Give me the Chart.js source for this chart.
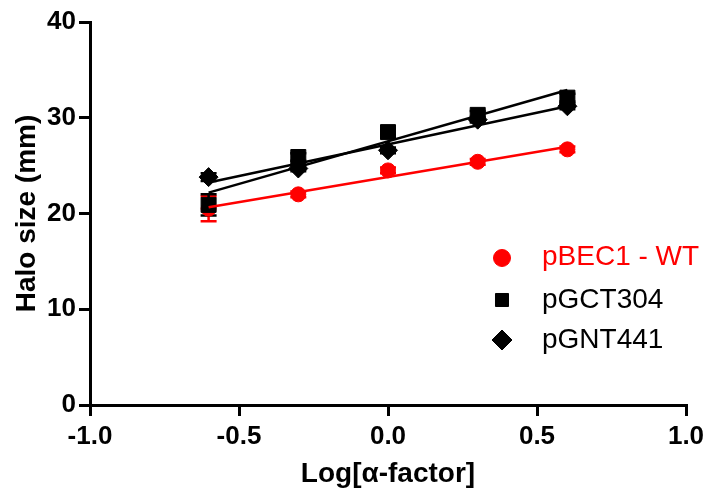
<!DOCTYPE html>
<html>
<head>
<meta charset="utf-8">
<script src="https://cdn.jsdelivr.net/npm/chart.js@4.4.0/dist/chart.umd.min.js"></script>
<style>
  html, body { margin: 0; padding: 0; background: #fff; }
  #wrap { width: 711px; height: 493px; }
</style>
</head>
<body>
<div id="wrap"><canvas id="halo-chart"></canvas></div>
<script>
// log of alpha-factor dose
const logDose = [-0.602, -0.301, 0, 0.301, 0.602];

const seriesNames = ['pBEC1 - WT', 'pGCT304', 'pGNT441'];
const wtValues = [20.5, 22.0, 24.5, 25.4, 26.7];
const gctValues = [20.9, 25.9, 28.5, 30.3, 32.1];
const gntValues = [23.8, 24.7, 26.6, 29.8, 31.2];
// error bars (SEM), most hidden behind the markers
const wtErr = [1.3, 0.3, 0.3, 0.3, 0.3];
const gctErr = [1.1, 0.4, 0.4, 0.4, 0.4];
const gntErr = [0.4, 0.3, 0.3, 0.3, 0.3];

const xTicks = [-1.0, -0.5, 0.0, 0.5, 1.0];
const yTicks = [0, 10, 20, 30, 40];

const FONT = "'Liberation Sans', Arial, sans-serif";

// least squares line over the data range
function fitLine(xs, ys) {
  const n = xs.length;
  const mx = xs.reduce((a, b) => a + b, 0) / n;
  const my = ys.reduce((a, b) => a + b, 0) / n;
  let sxy = 0, sxx = 0;
  for (let i = 0; i < n; i++) {
    sxy += (xs[i] - mx) * (ys[i] - my);
    sxx += (xs[i] - mx) * (xs[i] - mx);
  }
  const slope = sxy / sxx;
  const x0 = Math.min(...xs), x1 = Math.max(...xs);
  return [
    { x: x0, y: my + slope * (x0 - mx) },
    { x: x1, y: my + slope * (x1 - mx) }
  ];
}

function points(ys) {
  return logDose.map((x, i) => ({ x: x, y: ys[i] }));
}

const markers = [
  { values: wtValues, errs: wtErr, color: '#ff0000', style: 'circle', radius: 7.5, legendRadius: 8.5 },
  { values: gctValues, errs: gctErr, color: '#000000', style: 'rect', radius: 10.6, legendRadius: 9.2 },
  { values: gntValues, errs: gntErr, color: '#000000', style: 'rectRot', radius: 9.5, legendRadius: 10 }
];

const datasets = [];
markers.forEach((m, i) => {
  datasets.push({
    label: seriesNames[i],
    type: 'scatter',
    data: points(m.values),
    errs: m.errs,
    showLine: false,
    pointStyle: m.style,
    pointRadius: m.radius,
    pointHoverRadius: m.radius,
    backgroundColor: m.color,
    borderColor: m.color,
    borderWidth: 1,
    order: 6 - i
  });
});
markers.forEach((m, i) => {
  datasets.push({
    label: seriesNames[i] + ' fit',
    type: 'line',
    data: fitLine(logDose, m.values),
    borderColor: m.color,
    borderWidth: 2.5,
    pointRadius: 0,
    fill: false,
    order: 3 - i
  });
});

// error bars under the markers
const errorBars = {
  id: 'errorBars',
  beforeDatasetsDraw(chart) {
    const ctx = chart.ctx;
    const xs = chart.scales.x, ys = chart.scales.y;
    chart.data.datasets.forEach(ds => {
      if (!ds.errs) return;
      ctx.save();
      ctx.strokeStyle = ds.borderColor;
      ctx.lineWidth = 2.5;
      ds.data.forEach((p, i) => {
        const px = xs.getPixelForValue(p.x);
        const top = ys.getPixelForValue(p.y + ds.errs[i]);
        const bot = ys.getPixelForValue(p.y - ds.errs[i]);
        ctx.beginPath();
        ctx.moveTo(px, top); ctx.lineTo(px, bot);
        ctx.moveTo(px - 8, top); ctx.lineTo(px + 8, top);
        ctx.moveTo(px - 8, bot); ctx.lineTo(px + 8, bot);
        ctx.stroke();
      });
      ctx.restore();
    });
  }
};

// legend drawn inside the plot, lower right
const sideLegend = {
  id: 'sideLegend',
  afterDraw(chart) {
    const ctx = chart.ctx;
    const markY = [258, 300, 340];
    const textY = [265, 308, 348];
    ctx.save();
    ctx.font = '28px ' + FONT;
    ctx.textBaseline = 'alphabetic';
    markers.forEach((m, i) => {
      ctx.fillStyle = m.color;
      ctx.strokeStyle = m.color;
      ctx.lineWidth = 1;
      Chart.helpers.drawPoint(ctx, {
        pointStyle: m.style, radius: m.legendRadius, rotation: 0, borderWidth: 1
      }, 502, markY[i]);
      ctx.fillStyle = m.color;
      ctx.fillText(seriesNames[i], 542, textY[i]);
    });
    ctx.restore();
  }
};

const axisStyle = {
  grid: {
    display: true,
    drawOnChartArea: false,
    drawTicks: true,
    tickLength: 11,
    color: '#000',
    lineWidth: 3
  },
  border: { display: true, color: '#000', width: 3 }
};

new Chart(document.getElementById('halo-chart'), {
  type: 'scatter',
  data: { datasets: datasets },
  options: {
    responsive: true,
    maintainAspectRatio: false,
    animation: false,
    layout: { padding: { top: 22, right: 25, left: 0, bottom: 0 } },
    plugins: {
      legend: { display: false },
      tooltip: { enabled: false }
    },
    scales: {
      x: {
        type: 'linear',
        min: -1,
        max: 1,
        afterBuildTicks: s => { s.ticks = xTicks.map(v => ({ value: v })); },
        afterFit: s => { s.height = 88; },
        ticks: {
          color: '#000',
          padding: 5,
          font: { family: FONT, size: 26, weight: 'bold' },
          callback: v => v.toFixed(1)
        },
        title: {
          display: true,
          text: 'Log[α-factor]',
          color: '#000',
          padding: { top: 0, bottom: 2 },
          font: { family: FONT, size: 28, weight: 'bold' }
        },
        ...axisStyle
      },
      y: {
        min: 0,
        max: 40,
        afterBuildTicks: s => { s.ticks = yTicks.map(v => ({ value: v })); },
        afterFit: s => { s.width = 90; },
        ticks: {
          color: '#000',
          padding: 3,
          font: { family: FONT, size: 26, weight: 'bold' }
        },
        title: {
          display: true,
          text: 'Halo size (mm)',
          color: '#000',
          padding: { top: 10, bottom: 0 },
          font: { family: FONT, size: 28, weight: 'bold' }
        },
        ...axisStyle
      }
    }
  },
  plugins: [errorBars, sideLegend]
});
</script>
</body>
</html>
